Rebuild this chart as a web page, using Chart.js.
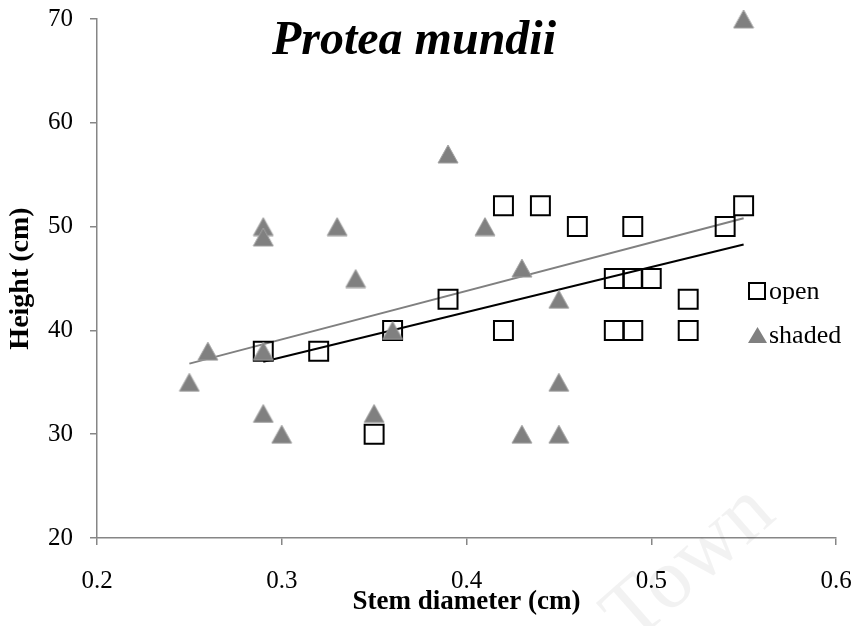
<!DOCTYPE html>
<html><head><meta charset="utf-8">
<script src="https://cdn.jsdelivr.net/npm/chart.js@4.4.0/dist/chart.umd.min.js"></script>
<style>html,body{margin:0;padding:0;background:#fff}#wrap{width:854px;height:626px;position:relative}</style>
</head><body><div id="wrap"><canvas id="c" width="854" height="626"></canvas></div>
<script>
// ---- data ----
const chartTitle = 'Protea mundii';
const xTitle = 'Stem diameter (cm)';
const yTitle = 'Height (cm)';
const seriesNames = ['open', 'shaded'];
const openX = [0.29, 0.32, 0.35, 0.36, 0.39, 0.42, 0.42, 0.44, 0.46, 0.48, 0.48, 0.49, 0.49, 0.49, 0.50, 0.52, 0.52, 0.54, 0.55];
const openY = [38, 38, 30, 40, 43, 52, 40, 52, 50, 45, 40, 50, 45, 40, 45, 43, 40, 50, 52];
const shadedX = [0.25, 0.26, 0.29, 0.29, 0.29, 0.29, 0.30, 0.33, 0.34, 0.35, 0.36, 0.39, 0.41, 0.43, 0.43, 0.45, 0.45, 0.45, 0.55];
const shadedY = [35, 38, 50, 49, 38, 32, 30, 50, 45, 32, 40, 57, 50, 46, 30, 43, 35, 30, 70];
const xTicks = [0.2, 0.3, 0.4, 0.5, 0.6];
const yTicks = [20, 30, 40, 50, 60, 70];

function pts(xs, ys) { return xs.map((x, i) => ({x: x, y: ys[i]})); }
function trend(xs, ys) {
  const n = xs.length;
  const mx = xs.reduce((a, b) => a + b, 0) / n;
  const my = ys.reduce((a, b) => a + b, 0) / n;
  let sxy = 0, sxx = 0;
  for (let i = 0; i < n; i++) { sxy += (xs[i] - mx) * (ys[i] - my); sxx += (xs[i] - mx) * (xs[i] - mx); }
  const b = sxy / sxx, a = my - b * mx;
  const x0 = Math.min(...xs), x1 = Math.max(...xs);
  return [{x: x0, y: a + b * x0}, {x: x1, y: a + b * x1}];
}

const serif = '"Liberation Serif", "Times New Roman", serif';
const axisGray = '#868686';

// triangle marker image, centred on its bounding box
function triangleMarker(w, h) {
  const cv = document.createElement('canvas');
  cv.width = w; cv.height = h;
  const c = cv.getContext('2d');
  c.beginPath();
  c.moveTo(w / 2, 1); c.lineTo(w - 1, h - 1); c.lineTo(1, h - 1); c.closePath();
  c.fillStyle = '#808080'; c.fill();
  c.strokeStyle = '#a0a0a0'; c.lineWidth = 1; c.stroke();
  return cv;
}
const triImg = triangleMarker(22, 20);

const overlay = {
  id: 'overlay',
  afterDraw(chart) {
    const ctx = chart.ctx;
    ctx.save();
    // watermark
    ctx.save();
    ctx.translate(690, 565);
    ctx.rotate(-0.72);
    ctx.font = '86px ' + serif;
    ctx.fillStyle = 'rgba(0,0,0,0.05)';
    ctx.textAlign = 'center';
    ctx.textBaseline = 'middle';
    ctx.fillText('Town', 0, 0);
    ctx.restore();
    // title
    ctx.font = 'italic bold 48px ' + serif;
    ctx.fillStyle = '#000';
    ctx.textAlign = 'center';
    ctx.textBaseline = 'alphabetic';
    ctx.fillText(chartTitle, 414, 54);
    // legend
    ctx.textAlign = 'left';
    ctx.font = '26px ' + serif;
    ctx.strokeStyle = '#000';
    ctx.lineWidth = 2;
    ctx.strokeRect(749, 283, 16, 16);
    ctx.fillText(seriesNames[0], 769, 299);
    ctx.beginPath();
    ctx.moveTo(757.5, 327); ctx.lineTo(767, 343); ctx.lineTo(748, 343); ctx.closePath();
    ctx.fillStyle = '#808080'; ctx.fill();
    ctx.fillStyle = '#000';
    ctx.fillText(seriesNames[1], 769, 343);
    ctx.restore();
  }
};

new Chart(document.getElementById('c'), {
  type: 'scatter',
  data: {
    datasets: [
      { label: seriesNames[1], data: pts(shadedX, shadedY), pointStyle: triImg, pointRadius: 11,
        backgroundColor: '#808080', borderColor: '#a0a0a0', borderWidth: 1, order: 0, clip: false },
      { label: seriesNames[0], data: pts(openX, openY), pointStyle: 'rect', pointRadius: 13.4,
        backgroundColor: 'rgba(0,0,0,0)', borderColor: '#000', borderWidth: 2, order: 1, clip: false },
      { type: 'line', label: 'shaded trend', data: trend(shadedX, shadedY), borderColor: '#808080',
        borderWidth: 2, pointRadius: 0, fill: false, order: 2 },
      { type: 'line', label: 'open trend', data: trend(openX, openY), borderColor: '#000',
        borderWidth: 2, pointRadius: 0, fill: false, order: 3 }
    ]
  },
  options: {
    responsive: false,
    animation: false,
    devicePixelRatio: 1,
    events: [],
    layout: { padding: { left: 0, right: 18, top: 19, bottom: 0 } },
    plugins: { legend: { display: false }, tooltip: { enabled: false }, title: { display: false } },
    scales: {
      x: {
        type: 'linear', min: 0.2, max: 0.6,
        afterFit: s => { s.height = 88; s.paddingLeft = 0; s.paddingRight = 0; },
        afterBuildTicks: s => { s.ticks = xTicks.map(v => ({value: v})); },
        ticks: { callback: v => v.toFixed(1), color: '#000', font: { family: serif, size: 25 }, padding: 21, maxRotation: 0 },
        grid: { drawOnChartArea: false, drawTicks: true, tickLength: 7, color: axisGray, lineWidth: 1.5 },
        border: { display: true, color: axisGray, width: 1.5 },
        title: { display: true, text: xTitle, color: '#000', font: { family: serif, size: 27, weight: 'bold' }, padding: { top: 0, bottom: 8 } }
      },
      y: {
        type: 'linear', min: 20, max: 70,
        afterFit: s => { s.width = 97; s.paddingTop = 0; s.paddingBottom = 0; },
        afterBuildTicks: s => { s.ticks = yTicks.map(v => ({value: v})); },
        ticks: { callback: v => String(v), color: '#000', font: { family: serif, size: 25 }, padding: 17 },
        grid: { drawOnChartArea: false, drawTicks: true, tickLength: 7, color: axisGray, lineWidth: 1.5 },
        border: { display: true, color: axisGray, width: 1.5 },
        title: { display: true, text: yTitle, color: '#000', font: { family: serif, size: 28, weight: 'bold' }, padding: { top: 4, bottom: 0 } }
      }
    }
  },
  plugins: [overlay]
});
</script></body></html>
